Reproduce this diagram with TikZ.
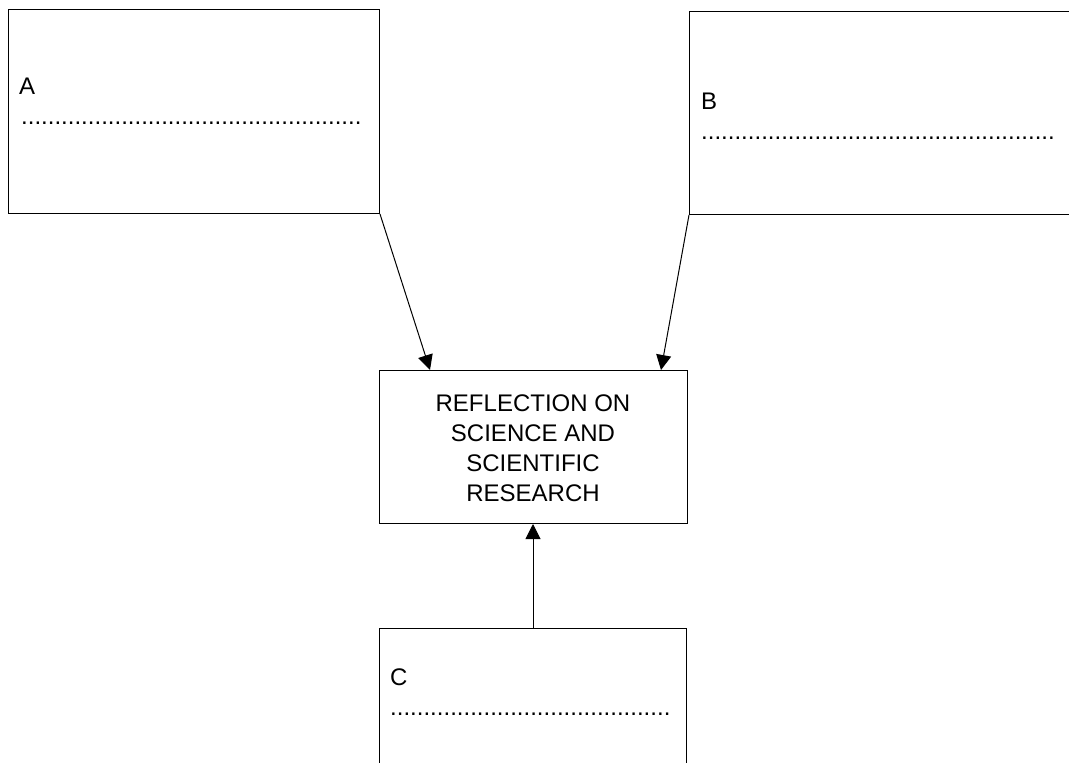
\documentclass[tikz,border=0pt]{standalone}
\usepackage{fontspec}
\setmainfont{Liberation Sans}
\usetikzlibrary{arrows.meta,calc}
\tikzset{
  box/.style={draw=black, line width=1pt, rectangle, inner sep=0pt, anchor=north west},
  label/.style={inner sep=0pt, anchor=base west, font=\fontsize{24}{29.7}\selectfont},
  link/.style={draw=black, line width=1pt, -{Triangle[length=15pt,width=15pt]}}
}
\newcommand{\dotrow}[1]{\foreach \i in {1,...,#1}{.}}
\begin{document}
\begin{tikzpicture}[x=1pt,y=-1pt]
  \useasboundingbox (0,0) rectangle (1069,763);
  \clip (0,0) rectangle (1069,763);
  \fill[white] (0,0) rectangle (1069,763);

  % boxes (B runs off the right edge, C off the bottom edge)
  \node[box, minimum width=371pt, minimum height=204pt] (A) at (8,9) {};
  \node[box, minimum width=420pt, minimum height=203pt] (B) at (689,11) {};
  \node[box, minimum width=308pt, minimum height=153pt] (ctr) at (379,370) {};
  \node[box, minimum width=307pt, minimum height=200pt] (C) at (379,628) {};

  % texts
  \node[label] (Alab) at (19,94) {A};
  \node[label] (Adots) at (21,124) {\dotrow{51}};
  \node[label] (Blab) at (701,109) {B};
  \node[label] (Bdots) at (701,139) {\dotrow{53}};
  \node[label] (Clab) at (390,685) {C};
  \node[label] (Cdots) at (390,715) {\dotrow{42}};
  \node[inner sep=0pt, align=center, anchor=north,
        font=\fontsize{24}{29.7}\selectfont] (ctrtxt) at (533,395)
        {REFLECTION ON\\SCIENCE AND\\SCIENTIFIC\\RESEARCH};

  % connectors
  \draw[link] (A.south east) -- ($(ctr.north west)+(51,0)$);
  \draw[link] (B.south west) -- ($(ctr.north west)+(282,0)$);
  \draw[link] (C.north -| 533,0) -- (ctr.south -| 533,0);
\end{tikzpicture}
\end{document}
